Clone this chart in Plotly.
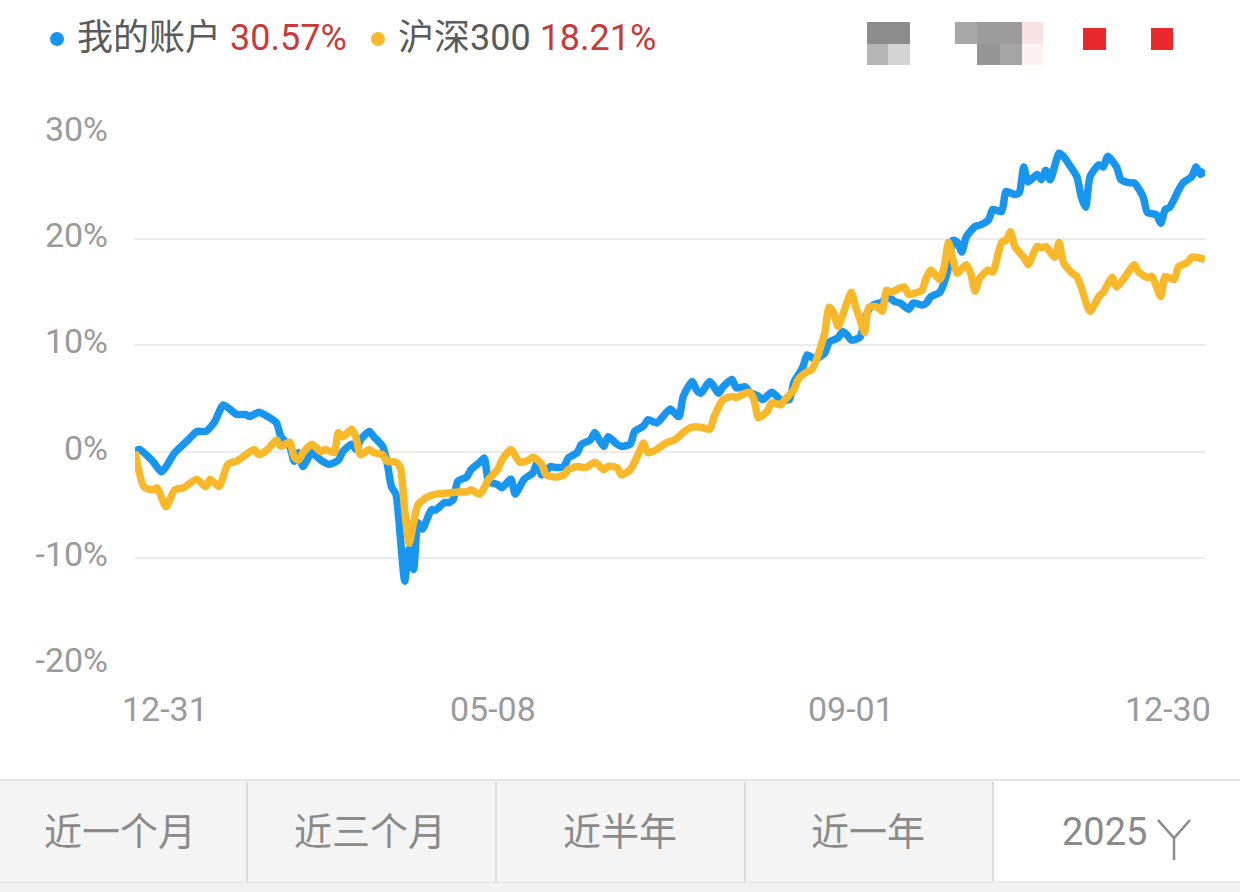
import plotly.graph_objects as go

# ---------------- data (trading-day index, cumulative return %) ----------------
account_x = [0, 1, 4, 6, 9, 12, 14, 16, 18, 20, 23, 25, 26, 28, 30, 32, 33, 35, 36, 37,
             38, 40, 42, 44, 46, 47, 49, 50, 51, 53, 54, 56, 57, 58, 59, 60, 61, 62, 63, 64,
             65, 67, 68, 70, 71, 72, 73, 75, 76, 78, 79, 80, 82, 83, 85, 86, 88, 90, 91, 92,
             94, 95, 97, 98, 100, 101, 103, 104, 105, 106, 107, 109, 110, 112, 113, 115, 116, 118, 121, 123,
             124, 126, 127, 128, 130, 132, 133, 135, 136, 138, 139, 141, 142, 144, 146, 148, 149, 151, 152, 153,
             154, 156, 157, 159, 160, 161, 162, 164, 165, 166, 167, 169, 170, 172, 173, 175, 176, 178, 179, 180,
             182, 183, 184, 185, 186, 187, 188, 190, 191, 193, 194, 196, 197, 199, 200, 201, 202, 204, 205, 206,
             207, 209, 210, 211, 213, 214, 215, 216, 218, 219, 220, 222, 223, 225, 226, 228, 229, 231, 232, 233,
             234, 236, 237, 239, 240, 241, 242]
account_y = [0.0, 0.2, -0.9, -1.9, -0.1, 1.1, 1.9, 1.9, 2.8, 4.4, 3.5, 3.5, 3.3, 3.7, 3.3, 2.7, 1.4, 0.5, -0.9, -0.1,
             -1.4, -0.1, -0.8, -1.2, -0.8, 0.0, 0.7, 0.2, 1.1, 1.9, 1.4, 0.5, -1.0, -3.3, -4.0, -8.0, -12.2, -9.2, -11.1, -6.7,
             -7.3, -5.5, -5.5, -4.8, -4.8, -4.5, -2.8, -2.4, -1.7, -1.0, -0.6, -2.8, -3.1, -3.4, -2.6, -4.0, -2.6, -2.0, -1.0, -2.2,
             -1.4, -1.5, -1.4, -0.6, -0.1, 0.7, 1.1, 1.8, 1.1, 0.5, 1.4, 0.7, 0.5, 0.7, 1.9, 2.4, 3.0, 2.7, 4.0, 3.3,
             5.2, 6.6, 5.8, 5.5, 6.6, 5.5, 6.1, 6.8, 6.0, 6.1, 5.6, 5.2, 4.9, 5.6, 4.9, 4.9, 6.5, 7.9, 9.1, 8.9,
             8.7, 9.3, 10.3, 10.7, 11.3, 11.0, 10.5, 10.8, 12.4, 13.4, 13.8, 14.1, 14.6, 14.1, 14.0, 13.4, 14.0, 13.8, 14.0, 14.6,
             15.0, 15.9, 17.4, 19.9, 19.7, 18.8, 20.2, 21.2, 21.3, 21.8, 22.8, 22.6, 24.5, 24.2, 24.4, 26.8, 25.4, 26.1, 25.6, 26.5,
             25.6, 28.1, 27.8, 27.2, 25.9, 24.0, 23.0, 25.9, 27.0, 26.8, 27.8, 26.8, 25.6, 25.3, 25.3, 24.0, 22.5, 22.3, 21.5, 22.8,
             23.0, 24.6, 25.3, 25.9, 26.8, 26.1, 26.5]

hs300_x = [0, 2, 4, 5, 7, 9, 11, 14, 16, 17, 19, 21, 23, 25, 27, 28, 30, 32, 33, 35,
           36, 37, 38, 40, 42, 43, 45, 46, 47, 49, 50, 51, 53, 54, 56, 57, 59, 60, 61, 62,
           63, 64, 66, 68, 71, 73, 75, 76, 78, 80, 82, 83, 85, 87, 89, 90, 92, 93, 95, 97,
           98, 100, 102, 104, 106, 107, 109, 110, 112, 114, 115, 116, 118, 120, 122, 123, 124, 126, 128, 130,
           131, 133, 135, 136, 138, 139, 140, 141, 143, 144, 146, 147, 149, 150, 152, 153, 154, 156, 157, 158,
           159, 161, 162, 163, 164, 165, 166, 168, 169, 170, 171, 173, 174, 175, 177, 178, 179, 180, 182, 183,
           184, 185, 186, 188, 189, 190, 191, 193, 194, 196, 197, 198, 199, 201, 202, 204, 205, 206, 208, 209,
           210, 212, 213, 214, 216, 218, 219, 221, 222, 224, 226, 227, 229, 230, 232, 233, 235, 236, 238, 239,
           240, 242]
hs300_y = [0.0, -3.3, -3.6, -3.4, -5.2, -3.6, -3.4, -2.6, -3.3, -2.6, -3.3, -1.2, -0.9, -0.3, 0.2, -0.3, 0.2, 1.1, 0.5, 0.9,
           -0.5, -0.8, -0.1, 0.7, 0.0, 0.2, -0.1, 1.8, 1.4, 2.1, 1.3, -0.3, 0.2, -0.1, -0.3, -0.9, -1.0, -1.5, -5.5, -8.6,
           -6.7, -5.0, -4.3, -4.0, -3.9, -3.8, -3.8, -3.6, -4.0, -2.6, -1.7, -0.8, 0.2, -1.0, -0.8, -0.5, -1.2, -2.2, -2.4, -2.2,
           -1.7, -1.4, -1.5, -1.0, -1.7, -1.4, -1.5, -2.2, -1.7, -0.1, 0.8, -0.1, 0.2, 0.8, 1.1, 1.4, 1.8, 2.3, 2.3, 2.1,
           3.3, 4.9, 5.2, 5.1, 5.5, 5.6, 4.9, 3.2, 3.8, 4.6, 4.4, 4.9, 5.8, 6.8, 7.5, 7.7, 8.5, 11.2, 13.6, 13.1,
           11.8, 14.0, 15.0, 13.6, 12.4, 11.2, 13.6, 13.6, 13.2, 15.2, 15.0, 15.4, 15.5, 14.8, 15.0, 15.2, 16.4, 17.1, 16.2, 17.4,
           19.7, 18.1, 16.8, 17.6, 16.8, 15.1, 16.3, 17.1, 16.9, 19.7, 19.9, 20.7, 19.3, 18.3, 17.6, 19.3, 19.2, 19.3, 18.3, 19.7,
           17.8, 16.8, 16.5, 15.5, 13.2, 14.6, 15.0, 16.4, 15.5, 16.5, 17.6, 16.9, 16.4, 16.5, 14.6, 16.5, 16.2, 17.4, 17.8, 18.3,
           18.3, 18.1]

series_names = ["我的账户", "沪深300"]
series_returns = ["30.57%", "18.21%"]
y_ticks = [-20, -10, 0, 10, 20, 30]
y_tick_text = ["-20%", "-10%", "0%", "10%", "20%", "30%"]
x_tick_idx = [0, 81, 162, 242]
x_tick_text = ["12-31", "05-08", "09-01", "12-30"]
tab_labels = ["近一个月", "近三个月", "近半年", "近一年", "2025"]

BLUE = "#1896ef"
YELLOW = "#f9b82a"
RED = "#c9383a"
FONT = "Roboto, 'Noto Sans CJK SC', sans-serif"

# pixel helpers for decorative items outside the plot area
L, R, T, B = 135, 1205, 133, 664
W, H = R - L, B - T
def px(x):
    return (x - L) / W
def py(y):
    return (B - y) / H

fig = go.Figure()
fig.add_trace(go.Scatter(x=account_x, y=account_y, mode="lines", name=series_names[0],
                         line=dict(color=BLUE, width=7.5, shape="spline", smoothing=0.6)))
fig.add_trace(go.Scatter(x=hs300_x, y=hs300_y, mode="lines", name=series_names[1],
                         line=dict(color=YELLOW, width=7.5, shape="spline", smoothing=0.6)))

shapes = []
annotations = []

# legend (top)
legend_pos = [(57, 75), (378, 396)]
for (dx, tx), nm, rv, col in zip(legend_pos, series_names, series_returns, [BLUE, YELLOW]):
    shapes.append(dict(type="circle", xref="paper", yref="paper",
                       x0=px(dx - 7), x1=px(dx + 7), y0=py(39 + 7), y1=py(39 - 7),
                       fillcolor=col, line=dict(width=0)))
    annotations.append(dict(xref="paper", yref="paper", x=px(tx), y=py(38), xanchor="left", yanchor="middle",
                            showarrow=False,
                            text=f"<span style='color:#5a5a5a'>{nm}</span> <span style='color:{RED}'>{rv}</span>",
                            font=dict(family=FONT, size=36)))

# blurred mosaic at the top right
mosaic = [
    (867, 910, 22, 44, "#8c8c8c"), (867, 888, 44, 65, "#b6b6b6"), (888, 910, 44, 65, "#d4d4d4"),
    (955, 977, 22, 44, "#a8a8a8"), (977, 1022, 22, 44, "#9c9c9c"), (977, 1000, 44, 65, "#959595"),
    (1000, 1022, 44, 65, "#a4a4a4"), (1022, 1043, 22, 44, "#f7e3e3"), (1022, 1043, 44, 65, "#fcf1f1"),
    (1083, 1106, 28, 50, "#e92a2c"), (1151, 1173, 28, 50, "#e92a2c"),
]
for x0, x1, y0, y1, c in mosaic:
    shapes.append(dict(type="rect", xref="paper", yref="paper", x0=px(x0), x1=px(x1),
                       y0=py(y1), y1=py(y0), fillcolor=c, line=dict(width=0), layer="above"))

# x tick labels
for i, (xi, tt) in enumerate(zip(x_tick_idx, x_tick_text)):
    anchor = "left" if i == 0 else ("right" if i == len(x_tick_idx) - 1 else "center")
    shift = -15 if i == 0 else (8 if i == len(x_tick_idx) - 1 else 0)
    annotations.append(dict(xref="x", yref="paper", x=xi, y=py(709), xanchor=anchor, yanchor="middle",
                            xshift=shift, showarrow=False, text=tt,
                            font=dict(family=FONT, size=34, color="#9a9a9a")))

# bottom tab bar
shapes.append(dict(type="rect", xref="paper", yref="paper", x0=px(0), x1=px(993), y0=py(882), y1=py(781),
                   fillcolor="#f4f4f4", line=dict(width=0)))
shapes.append(dict(type="rect", xref="paper", yref="paper", x0=px(993), x1=px(1240), y0=py(882), y1=py(781),
                   fillcolor="#ffffff", line=dict(width=0)))
shapes.append(dict(type="rect", xref="paper", yref="paper", x0=px(0), x1=px(1240), y0=py(892), y1=py(882),
                   fillcolor="#f2f2f2", line=dict(width=0)))
shapes.append(dict(type="line", xref="paper", yref="paper", x0=px(0), x1=px(1240), y0=py(780), y1=py(780),
                   line=dict(color="#e4e4e4", width=2)))
shapes.append(dict(type="line", xref="paper", yref="paper", x0=px(0), x1=px(1240), y0=py(882), y1=py(882),
                   line=dict(color="#e8e8e8", width=2)))
for sx in [247, 496, 745, 993]:
    shapes.append(dict(type="line", xref="paper", yref="paper", x0=px(sx), x1=px(sx), y0=py(782), y1=py(881),
                       line=dict(color="#dadada", width=2)))
tab_centers = [120, 370, 620, 868, 1104]
for cx, lab in zip(tab_centers, tab_labels):
    annotations.append(dict(xref="paper", yref="paper", x=px(cx), y=py(832), xanchor="center", yanchor="middle",
                            showarrow=False, text=lab, font=dict(family=FONT, size=38, color="#8a8a8a")))
# chevron after year
shapes.append(dict(type="path", xref="paper", yref="paper",
                   path=f"M {px(1158)} {py(820)} L {px(1174)} {py(838)} L {px(1190)} {py(820)} M {px(1174)} {py(838)} L {px(1174)} {py(860)}",
                   line=dict(color="#8a8a8a", width=2.5)))

fig.update_layout(
    width=1240, height=892,
    margin=dict(l=L, r=1240 - R, t=T, b=892 - B),
    paper_bgcolor="white", plot_bgcolor="white",
    showlegend=False,
    font=dict(family=FONT),
    shapes=shapes, annotations=annotations,
    xaxis=dict(range=[0, 242], showgrid=False, zeroline=False, showticklabels=False, showline=False, fixedrange=True),
    yaxis=dict(range=[-20, 30], tickmode="array", tickvals=y_ticks, ticktext=y_tick_text,
               showgrid=True, gridcolor="#ebebeb", gridwidth=2,
               zeroline=False, showline=False, ticks="", ticklabelstandoff=26, ticklabelshift=-4,
               tickfont=dict(family=FONT, size=34, color="#9a9a9a"), fixedrange=True),
)

fig.write_html("out.html", config={"displayModeBar": False},
               post_script="document.body.style.margin='0';document.body.style.padding='0';")
